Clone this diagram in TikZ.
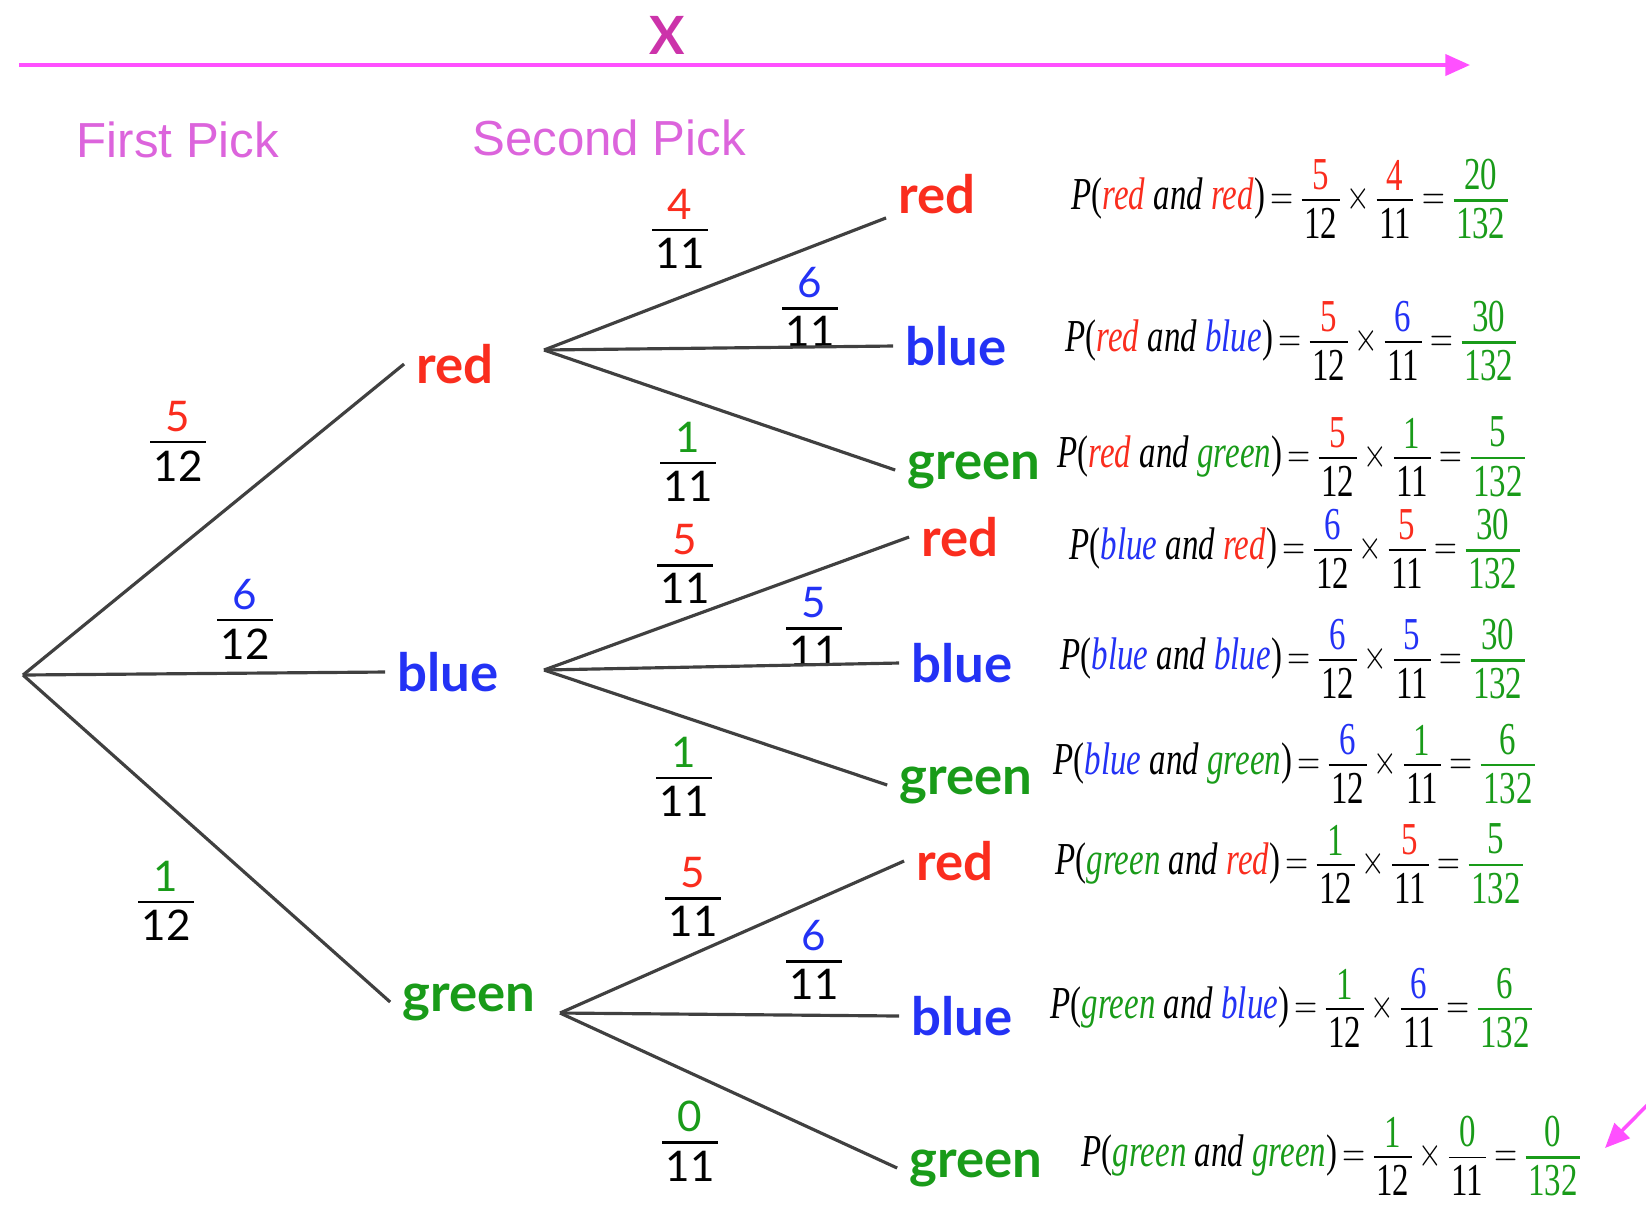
\documentclass[tikz,border=0pt]{standalone}
\usepackage{amsmath}
\usepackage{fontspec}
\usepackage{xcolor}
\usepackage{graphicx}
\usepackage{tikz}
\usetikzlibrary{arrows.meta}
\setmainfont{Liberation Serif}
\newfontfamily\labelfont{Lato}
\newfontfamily\pickfont{Liberation Sans}

\definecolor{tred}{RGB}{250,45,30}
\definecolor{tblue}{RGB}{35,50,245}
\definecolor{tgreen}{RGB}{25,155,25}
\definecolor{pickpink}{RGB}{220,100,220}
\definecolor{axispink}{RGB}{255,80,255}
\definecolor{xpink}{RGB}{204,51,170}

% stacked fraction: bar thickness, numerator, denominator
\newcommand{\stfrac}[3]{\ensuremath{\vcenter{\offinterlineskip\halign{\hfil\kern1pt##\kern1pt\hfil\cr #2\cr\noalign{\kern2.6pt\hrule height #1\kern2pt}#3\cr}}}}
% branch probability: coloured numerator over black denominator
\newcommand{\brfrac}[3]{\stfrac{0.8pt}{\textcolor{#1}{#2}}{#3}}
% joint probability of two picks
\newcommand{\prob}[7]{\scalebox{0.72}[1]{\textit{P}(\textit{\textcolor{#1}{#2}} \textit{and} \textit{\textcolor{#3}{#4}})$\,=\stfrac{0.5pt}{\textcolor{#1}{#5}}{12}\times\stfrac{0.5pt}{\textcolor{#3}{#6}}{11}={\color{tgreen}\stfrac{0.8pt}{#7}{132}}$}}

\begin{document}
\begin{tikzpicture}[
  x=0.01cm, y=-0.01cm,
  pick/.style={font=\pickfont\fontsize{14}{16}\selectfont, text=pickpink},
  lbl/.style={font=\labelfont\bfseries\fontsize{15}{18}\selectfont},
  frc/.style={font=\labelfont\fontsize{12}{14}\selectfont, inner sep=1pt},
  res/.style={font=\fontsize{13}{15}\selectfont, anchor=west, inner sep=0pt},
  branch/.style={draw=black!75, line width=0.9pt},
  axis/.style={draw=axispink, line width=1pt, -{Triangle[length=7pt,width=6pt]}}
]
\useasboundingbox (0,0) rectangle (1646,1205);

% top axis
\coordinate (axl) at (19,65);
\coordinate (axr) at (1470,65);
\node[font=\labelfont\bfseries\fontsize{15}{18}\selectfont, text=xpink] (xlab) at (667,35) {X};
\draw[axis] (axl) -- (axr);

\node[pick] (first) at (178,140) {First Pick};
\node[pick] (second) at (609,138) {Second Pick};

% first pick
\coordinate (root) at (23,675);
\node[lbl, text=tred] (r1) at (455,364) {red};
\node[lbl, text=tblue] (b1) at (448,672) {blue};
\node[lbl, text=tgreen] (g1) at (469,1002) {green};
\node[frc] (fr1) at (178,441) {\brfrac{tred}{5}{12}};
\node[frc] (fb1) at (245,619) {\brfrac{tblue}{6}{12}};
\node[frc] (fg1) at (166,901) {\brfrac{tgreen}{1}{12}};

\draw[branch] (root) -- (r1.west);
\draw[branch] (root) -- (b1.west);
\draw[branch] (root) -- (g1.west);

% second pick
\coordinate (rf) at (544,350);
\coordinate (bf) at (544,670);
\coordinate (gf) at (560,1013);

\node[lbl, text=tred] (rr) at (937,194) {red};
\node[lbl, text=tblue] (rb) at (956,346) {blue};
\node[lbl, text=tgreen] (rg) at (974,470) {green};
\node[lbl, text=tred] (br) at (960,537) {red};
\node[lbl, text=tblue] (bb) at (962,663) {blue};
\node[lbl, text=tgreen] (bg) at (966,785) {green};
\node[lbl, text=tred] (gr) at (955,861) {red};
\node[lbl, text=tblue] (gb) at (962,1016) {blue};
\node[lbl, text=tgreen] (gg) at (976,1168) {green};

\node[frc] (frr) at (680,229) {\brfrac{tred}{4}{11}};
\node[frc] (frb) at (810,307) {\brfrac{tblue}{6}{11}};
\node[frc] (frg) at (688,462) {\brfrac{tgreen}{1}{11}};
\node[frc] (fbr) at (685,564) {\brfrac{tred}{5}{11}};
\node[frc] (fbb) at (814,627) {\brfrac{tblue}{5}{11}};
\node[frc] (fbg) at (684,777) {\brfrac{tgreen}{1}{11}};
\node[frc] (fgr) at (693,897) {\brfrac{tred}{5}{11}};
\node[frc] (fgb) at (814,960) {\brfrac{tblue}{6}{11}};
\node[frc] (fgg) at (690,1141) {\brfrac{tgreen}{0}{11}};

\draw[branch] (rf) -- ([yshift=-6.8pt]rr.west);
\draw[branch] (rf) -- (rb.west);
\draw[branch] (rf) -- (rg.west);
\draw[branch] (bf) -- (br.west);
\draw[branch] (bf) -- (bb.west);
\draw[branch] (bf) -- (bg.west);
\draw[branch] (gf) -- (gr.west);
\draw[branch] (gf) -- (gb.west);
\draw[branch] (gf) -- (gg.west);

% joint probabilities
\node[res] (prr) at (1071,199) {\prob{tred}{red}{tred}{red}{5}{4}{20}};
\node[res] (prb) at (1065,341) {\prob{tred}{red}{tblue}{blue}{5}{6}{30}};
\node[res] (prg) at (1057,457) {\prob{tred}{red}{tgreen}{green}{5}{1}{5}};
\node[res] (pbr) at (1069,549) {\prob{tblue}{blue}{tred}{red}{6}{5}{30}};
\node[res] (pbb) at (1060,659) {\prob{tblue}{blue}{tblue}{blue}{6}{5}{30}};
\node[res] (pbg) at (1053,764) {\prob{tblue}{blue}{tgreen}{green}{6}{1}{6}};
\node[res] (pgr) at (1055,864) {\prob{tgreen}{green}{tred}{red}{1}{5}{5}};
\node[res] (pgb) at (1050,1008) {\prob{tgreen}{green}{tblue}{blue}{1}{6}{6}};
\node[res] (pgg) at (1081,1156) {\prob{tgreen}{green}{tgreen}{green}{1}{0}{0}};

% pointer to the impossible outcome
\coordinate (ptail) at (1662,1090);
\coordinate (ptip) at (1605,1148);
\draw[axis] (ptail) -- (ptip);
\end{tikzpicture}
\end{document}
